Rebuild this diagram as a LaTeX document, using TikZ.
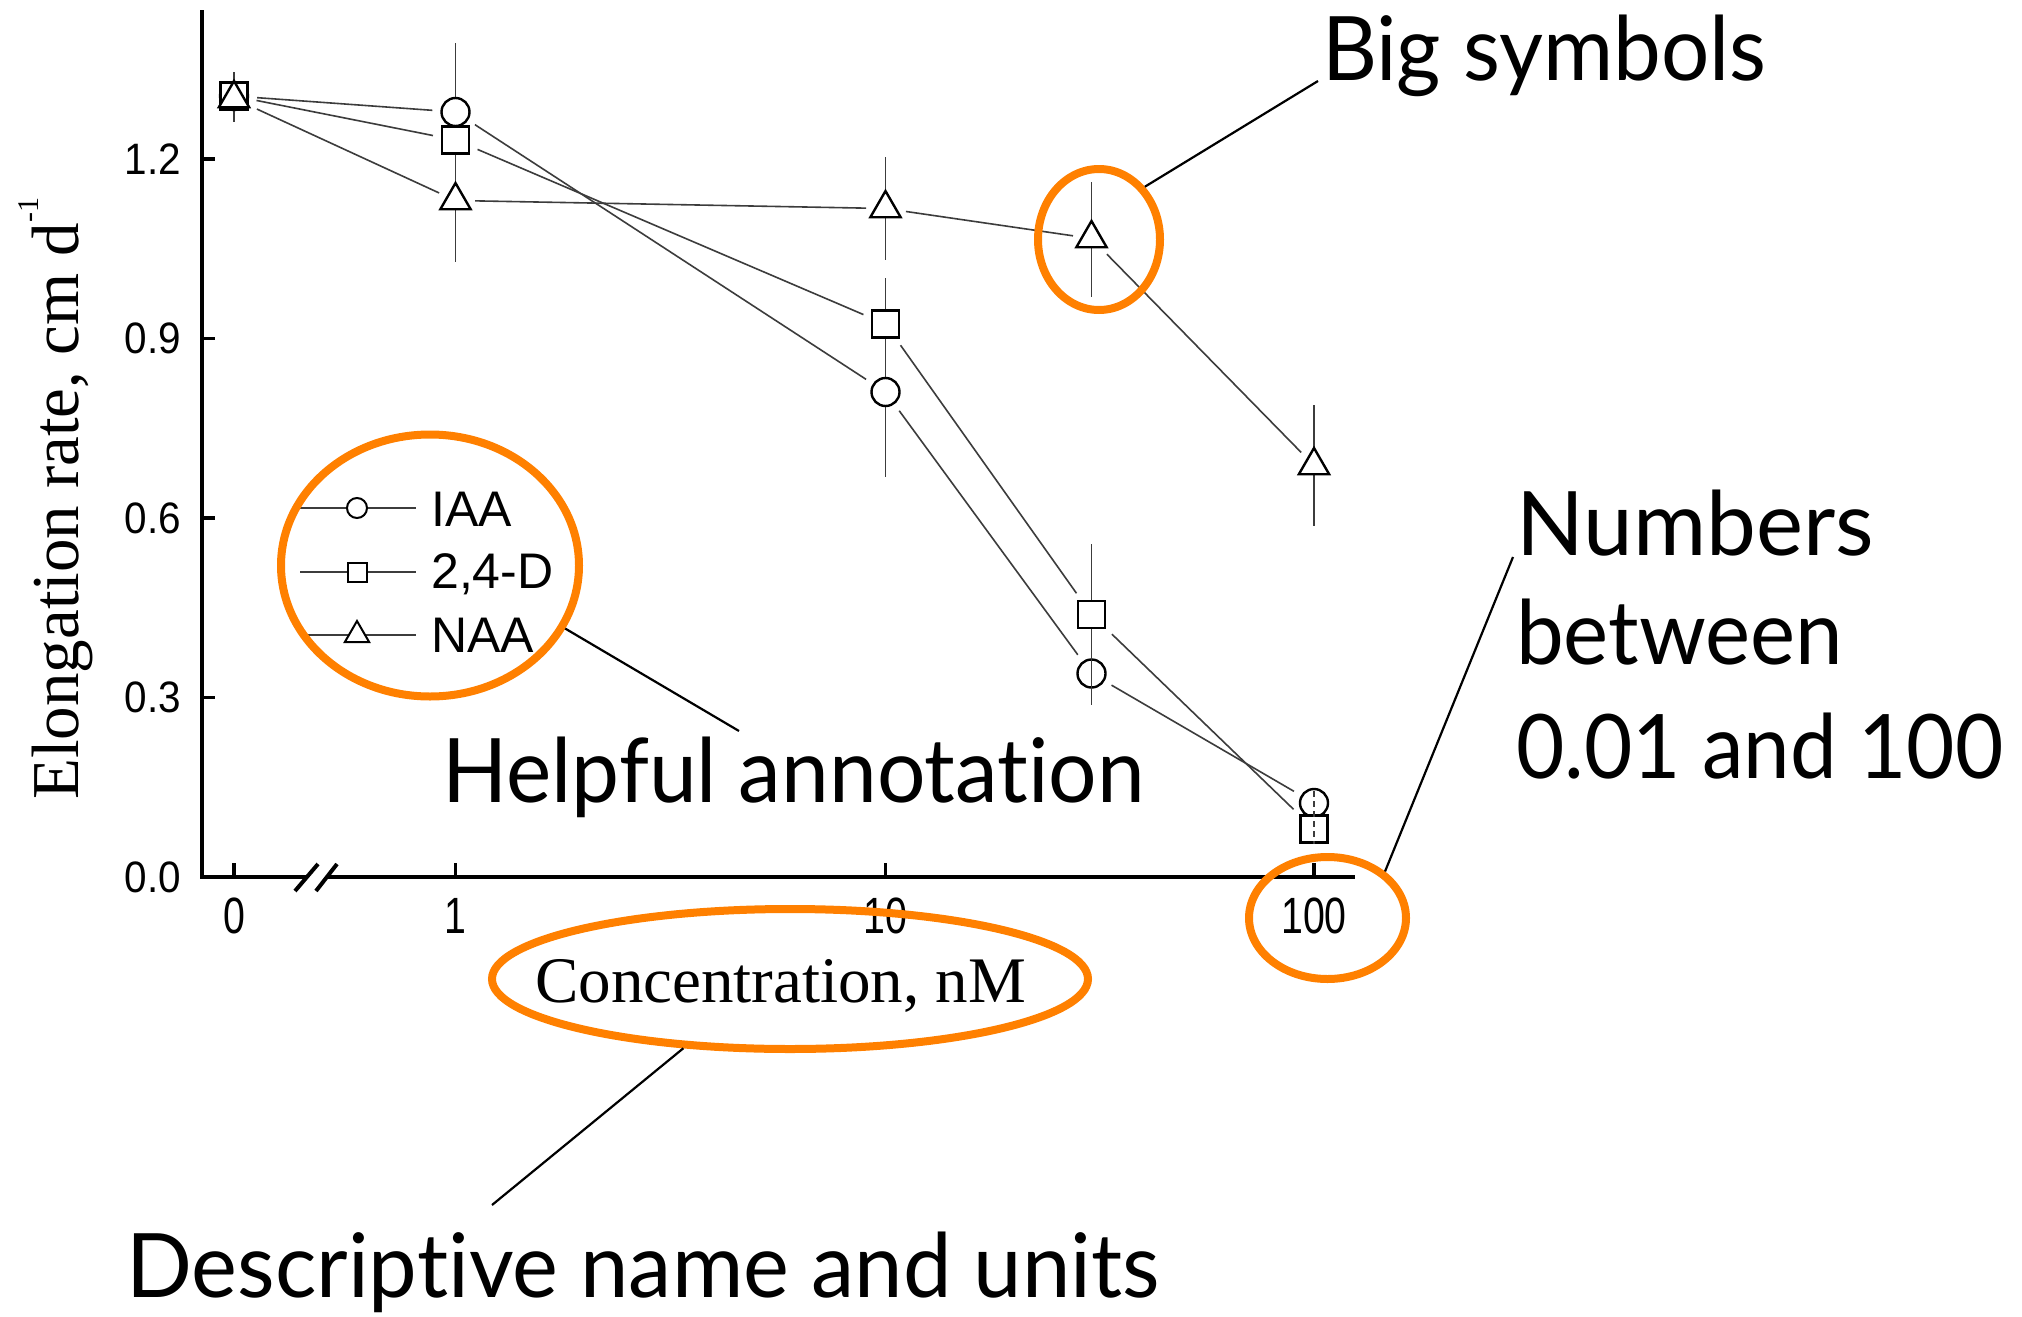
\documentclass[tikz,border=0pt]{standalone}
\usepackage{fontspec}
\setmainfont{Liberation Serif}
\newfontfamily\plotsans{Liberation Sans}
\newfontfamily\notefont[Ligatures=NoCommon]{Lato}
\usetikzlibrary{shapes.geometric}

\definecolor{hilite}{RGB}{255,128,0}
\definecolor{plotgray}{RGB}{60,60,60}

\begin{document}
\begin{tikzpicture}[x=1pt,y=-1pt,
  axisline/.style={line width=4pt},
  tickmark/.style={line width=3.2pt},
  ytick/.style={font=\plotsans\fontsize{44}{44}\selectfont, anchor=east, inner sep=0pt, xscale=0.92},
  xtick/.style={font=\plotsans\fontsize{51}{51}\selectfont, anchor=north, inner sep=0pt, xscale=0.77},
  errbar/.style={draw=plotgray, line width=1.5pt},
  sline/.style={draw=plotgray, line width=1.6pt, shorten <=8pt, shorten >=8pt},
  mcirc/.style={circle, draw=black, fill=white, line width=2.4pt, inner sep=0pt, minimum size=28pt},
  msq/.style={rectangle, draw=black, fill=white, line width=2.4pt, inner sep=0pt, minimum size=27pt},
  mtri/.style={regular polygon, regular polygon sides=3, draw=black, fill=white, line width=2.4pt, inner sep=0pt, minimum size=35pt},
  lcirc/.style={mcirc, line width=2pt, minimum size=20pt},
  lsq/.style={msq, line width=2pt, minimum size=19pt},
  ltri/.style={mtri, line width=2pt, minimum size=28pt},
  legline/.style={draw=plotgray, line width=1.6pt},
  legtext/.style={font=\plotsans\fontsize{50}{50}\selectfont, anchor=base west, inner sep=0pt},
  hiell/.style={ellipse, draw=hilite, line width=8pt, inner sep=0pt},
  leader/.style={draw=black, line width=2.2pt},
  note/.style={font=\notefont\fontsize{89}{89}\selectfont, anchor=base west, inner sep=0pt},
]
\useasboundingbox (0,0) rectangle (2022,1317);
\fill[white] (0,0) rectangle (2022,1317);

% axes with a break between 0 and 1
\draw[axisline] (202,10) -- (202,877) -- (307,877);
\draw[axisline] (327,877) -- (1355,877);
\draw[axisline] (295,891) -- (318,864);
\draw[axisline] (316,891) -- (337,864);

% y ticks and labels
\foreach \yy/\lab in {877/0.0, 697.5/0.3, 518/0.6, 338.5/0.9, 159/1.2}{
  \draw[tickmark] (202,\yy) -- (215,\yy);
  \node[ytick] (yl\lab) at (181,\yy) {\lab};
}
% x ticks and labels
\foreach \xx/\lab in {234/0, 455.5/1, 885.5/10, 1314/100}{
  \draw[tickmark] (\xx,877) -- (\xx,863);
  \node[xtick] (xl\lab) at (\xx,898) {\lab};
}

% axis titles
\node[rotate=90, anchor=base west, inner sep=0pt, font=\fontsize{67}{67}\selectfont] (ytitle) at (78,800)
  {Elongation rate, cm d\kern1pt\raisebox{40pt}{\fontsize{30}{30}\selectfont -1}};
\node[anchor=base west, inner sep=0pt, font=\fontsize{65}{65}\selectfont] (xtitle) at (535,1002) {Concentration, nM};

% error bars
\draw[errbar] (234,72) -- (234,122);
\draw[errbar] (455.5,43) -- (455.5,262);
\draw[errbar] (885.5,157) -- (885.5,260);
\draw[errbar] (885.5,278) -- (885.5,477);
\draw[errbar] (1091.5,182) -- (1091.5,297);
\draw[errbar] (1091.5,544) -- (1091.5,705);
\draw[errbar] (1314,405) -- (1314,526);

% data markers: IAA (circles), 2,4-D (squares), NAA (triangles)
\node[mcirc] (i0) at (234,96) {};
\node[mcirc] (i1) at (455.5,112) {};
\node[mcirc] (i2) at (885.5,392) {};
\node[mcirc] (i3) at (1091.5,673.5) {};
\node[mcirc] (i4) at (1314,803) {};
\node[msq] (d0) at (234,96) {};
\node[msq] (d1) at (455.5,140) {};
\node[msq] (d2) at (885.5,324) {};
\node[msq] (d3) at (1091.5,614.5) {};
\node[msq] (d4) at (1314,829) {};
\node[mtri] (n0) at (234,98.5) {};
\node[mtri] (n1) at (455.5,200.5) {};
\node[mtri] (n2) at (885.5,208.5) {};
\node[mtri] (n3) at (1091.5,238.5) {};
\node[mtri] (n4) at (1314,465.5) {};

% error bars seen through the open symbols
\draw[errbar] (1091.5,629) -- (1091.5,705);
\draw[errbar, dash pattern=on 6pt off 4pt] (1314,791) -- (1314,844);

% series lines
\draw[sline] (i0) -- (i1);
\draw[sline] (i1) -- (i2);
\draw[sline] (i2) -- (i3);
\draw[sline] (i3) -- (i4);
\draw[sline] (d0) -- (d1);
\draw[sline] (d1) -- (d2);
\draw[sline] (d2) -- (d3);
\draw[sline] (d3) -- (d4);
\draw[sline] (n0) -- (n1);
\draw[sline] (n1) -- (n2);
\draw[sline] (n2) -- (n3);
\draw[sline] (n3) -- (n4);

% legend
\coordinate (la1) at (300,508);  \coordinate (lb1) at (416,508);
\coordinate (la2) at (300,572);  \coordinate (lb2) at (416,572);
\coordinate (la3) at (300,635);  \coordinate (lb3) at (416,635);
\draw[legline] (la1) -- (lb1);
\draw[legline] (la2) -- (lb2);
\draw[legline] (la3) -- (lb3);
\node[lcirc] (lm1) at (357,508) {};
\node[lsq] (lm2) at (357,572) {};
\node[ltri] (lm3) at (357,635) {};
\node[legtext] (lt1) at (431,526) {IAA};
\node[legtext] (lt2) at (431,588) {2,4-D};
\node[legtext] (lt3) at (431,652) {NAA};

% highlight ellipses
\node[hiell, minimum width=122pt, minimum height=141pt] (ebig) at (1099,239.5) {};
\node[hiell, minimum width=298pt, minimum height=262pt] (eleg) at (430,565.5) {};
\node[hiell, minimum width=596pt, minimum height=140pt] (econc) at (790,979) {};
\node[hiell, minimum width=157pt, minimum height=122pt] (ehund) at (1327.5,918) {};

% annotations
\node[note, xscale=0.958] (tbig) at (1322,80) {Big symbols};
\node[note, xscale=0.962] (thelp) at (442,802) {Helpful annotation};
\node[note, xscale=0.975] (tdesc) at (126,1297) {Descriptive name and units};
\node[note] (tnum1) at (1516,555) {Numbers};
\node[note, xscale=0.958] (tnum2) at (1516,664) {between};
\node[note, xscale=0.937] (tnum3) at (1516,778) {0.01 and 100};

\coordinate (cbig) at (1318,81);
\coordinate (chelp) at (739,731);
\coordinate (cdesc) at (492,1205);
\coordinate (cnum) at (1513,557);
\draw[leader] (ebig.49) -- (cbig);
\draw[leader] (eleg.-25) -- (chelp);
\draw[leader] (econc.213.6) -- (cdesc);
\draw[leader] (ehund.39) -- (cnum);
\end{tikzpicture}
\end{document}
